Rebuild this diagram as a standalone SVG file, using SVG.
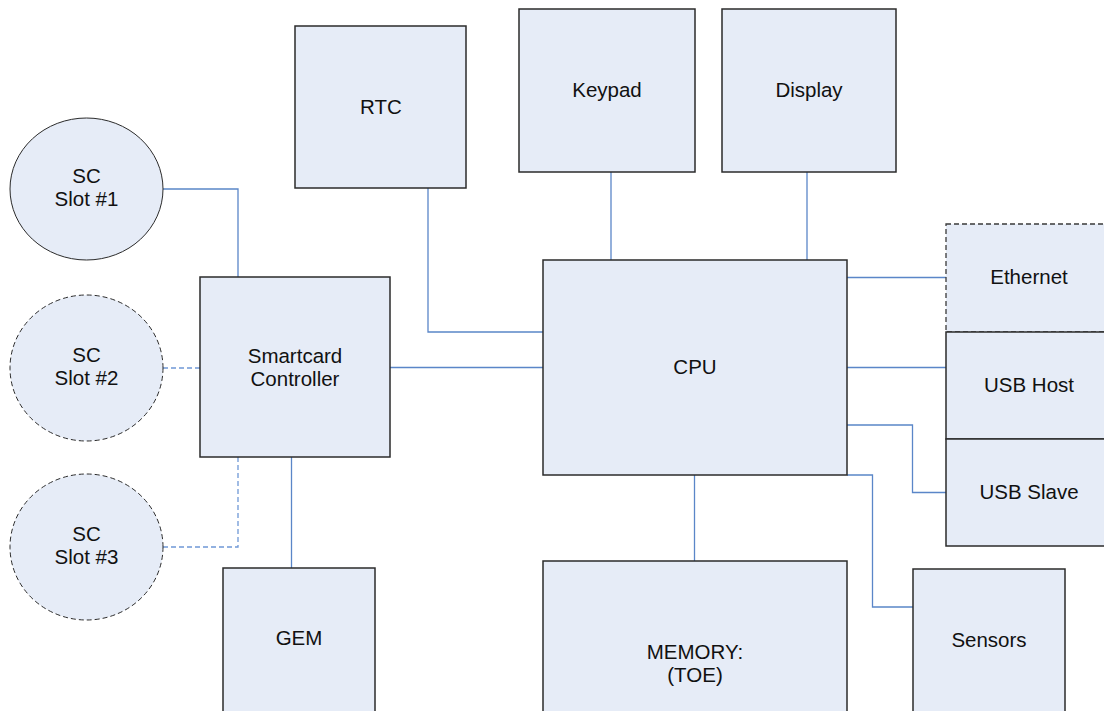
<svg xmlns="http://www.w3.org/2000/svg" width="1104" height="711" viewBox="0 0 1104 711">
<style>
.box{fill:#e6ecf7;stroke:#2b2b2b;stroke-width:1.5}
.dbox{fill:#e6ecf7;stroke:#3a3a3a;stroke-width:1.3;stroke-dasharray:5,3}
.circ{fill:#e6ecf7;stroke:#2b2b2b;stroke-width:1}
.dcirc{fill:#e6ecf7;stroke:#2b2b2b;stroke-width:1;stroke-dasharray:5,3}
.ln{fill:none;stroke:#5a86c8;stroke-width:1.3}
.dln{fill:none;stroke:#6f98d6;stroke-width:1.3;stroke-dasharray:5,3}
text{font-family:"Liberation Sans",Arial,sans-serif;font-size:20.5px;fill:#111;text-anchor:middle}
</style>
<rect width="1104" height="711" fill="#fff"/>
<g id="connectors">
<polyline class="ln" points="163,189 238,189 238,277"/>
<polyline class="dln" points="163,368 200,368"/>
<polyline class="dln" points="163,547 238,547 238,457"/>
<line class="ln" x1="291.5" y1="457" x2="291.5" y2="568"/>
<polyline class="ln" points="428,188 428,332 543,332"/>
<line class="ln" x1="390" y1="367.5" x2="543" y2="367.5"/>
<line class="ln" x1="611" y1="172" x2="611" y2="260"/>
<line class="ln" x1="807" y1="172" x2="807" y2="260"/>
<line class="ln" x1="847" y1="277.5" x2="946" y2="277.5"/>
<line class="ln" x1="847" y1="367.5" x2="946" y2="367.5"/>
<polyline class="ln" points="847,425 912.5,425 912.5,492.5 946,492.5"/>
<polyline class="ln" points="847,475 872.5,475 872.5,607 913,607"/>
<line class="ln" x1="694.5" y1="475" x2="694.5" y2="561"/>
</g>
<g id="slot1"><ellipse class="circ" cx="86.5" cy="189" rx="76.5" ry="71"/><text x="86.5" y="183">SC</text><text x="86.5" y="206">Slot #1</text></g>
<g id="slot2"><ellipse class="dcirc" cx="86.5" cy="368" rx="76.5" ry="73"/><text x="86.5" y="362">SC</text><text x="86.5" y="385">Slot #2</text></g>
<g id="slot3"><ellipse class="dcirc" cx="86.5" cy="547" rx="76.5" ry="73"/><text x="86.5" y="541">SC</text><text x="86.5" y="564">Slot #3</text></g>
<g id="smartcard"><rect class="box" x="200" y="277" width="190" height="180"/><text x="295" y="363">Smartcard</text><text x="295" y="386">Controller</text></g>
<g id="gem"><rect class="box" x="223" y="568" width="152" height="150"/><text x="299" y="645">GEM</text></g>
<g id="rtc"><rect class="box" x="295" y="26" width="171" height="162"/><text x="381" y="114">RTC</text></g>
<g id="keypad"><rect class="box" x="519" y="9" width="176" height="163"/><text x="607" y="97">Keypad</text></g>
<g id="display"><rect class="box" x="722" y="9" width="174" height="163"/><text x="809" y="97">Display</text></g>
<g id="cpu"><rect class="box" x="543" y="260" width="304" height="215"/><text x="695" y="374">CPU</text></g>
<g id="ethernet"><rect class="dbox" x="946" y="224" width="165" height="108"/><text x="1029" y="284">Ethernet</text></g>
<g id="usbhost"><rect class="box" x="946" y="332" width="165" height="107"/><text x="1029" y="392">USB Host</text></g>
<g id="usbslave"><rect class="box" x="946" y="439" width="165" height="107"/><text x="1029" y="499">USB Slave</text></g>
<g id="memory"><rect class="box" x="543" y="561" width="304" height="160"/><text x="695" y="659">MEMORY:</text><text x="695" y="682">(TOE)</text></g>
<g id="sensors"><rect class="box" x="913" y="569" width="152" height="150"/><text x="989" y="647">Sensors</text></g>
</svg>
